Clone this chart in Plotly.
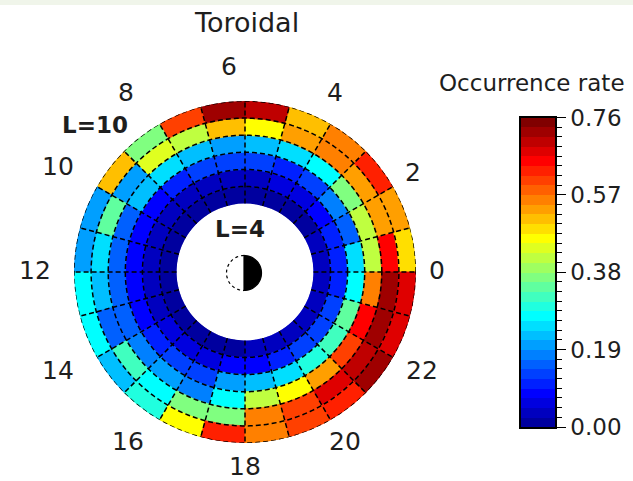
import math
import plotly.graph_objects as go

# Occurrence rate of toroidal-mode events per MLT hour (0..23) and L-shell ring
MLT_HOURS = list(range(24))
L_LOWER = [4, 5, 6, 7, 8, 9]

rate_L4 = [0.035, 0.03, 0.02, 0.02, 0.01, 0.01, 0.01, 0.01, 0.01, 0.01, 0.01, 0.01,
           0.01, 0.01, 0.01, 0.02, 0.02, 0.02, 0.03, 0.03, 0.03, 0.03, 0.035, 0.035]
rate_L5 = [0.11, 0.10, 0.09, 0.07, 0.05, 0.045, 0.045, 0.045, 0.045, 0.045, 0.045, 0.045,
           0.045, 0.045, 0.05, 0.06, 0.07, 0.09, 0.09, 0.10, 0.12, 0.14, 0.12, 0.11]
rate_L6 = [0.26, 0.16, 0.18, 0.13, 0.11, 0.12, 0.13, 0.12, 0.10, 0.09, 0.09, 0.09,
           0.08, 0.08, 0.11, 0.12, 0.14, 0.20, 0.22, 0.26, 0.30, 0.33, 0.35, 0.27]
rate_L7 = [0.42, 0.42, 0.37, 0.27, 0.26, 0.22, 0.21, 0.23, 0.25, 0.22, 0.16, 0.16,
           0.16, 0.16, 0.17, 0.21, 0.185, 0.27, 0.41, 0.47, 0.53, 0.60, 0.65, 0.55]
rate_L8 = [0.65, 0.53, 0.54, 0.55, 0.54, 0.47, 0.52, 0.41, 0.43, 0.21, 0.34, 0.26,
           0.22, 0.16, 0.32, 0.27, 0.37, 0.37, 0.56, 0.61, 0.68, 0.71, 0.72, 0.73]
rate_L9 = [0.48, 0.53, 0.62, 0.56, 0.52, 0.70, 0.72, 0.60, 0.37, 0.51, 0.20, 0.21,
           0.28, 0.27, 0.23, 0.30, 0.47, 0.62, 0.55, 0.60, 0.64, 0.73, 0.67, 0.68]
RATES = [rate_L4, rate_L5, rate_L6, rate_L7, rate_L8, rate_L9]

MLT_TICKS = [0, 2, 4, 6, 8, 10, 12, 14, 16, 18, 20, 22]
CBAR_TICKS = [0.00, 0.19, 0.38, 0.57, 0.76]
VMAX = 0.76
N_LEVELS = 32

FONT = "DejaVu Sans"
INK = "#1e1e1e"


def jet(m):
    """MATLAB-style jet(m) colour table."""
    n = (m + 3) // 4
    u = [(i + 1) / n for i in range(n)] + [1.0] * (n - 1) + [(n - i) / n for i in range(n)]
    off = (n + 1) // 2 - (1 if m % 4 == 1 else 0)
    R, G, B = [0.0] * m, [0.0] * m, [0.0] * m
    for k, uk in enumerate(u):
        g = off + k + 1
        for idx, ch in ((g, G), (g + n, R), (g - n, B)):
            if 1 <= idx <= m:
                ch[idx - 1] = uk
    return [f"rgb({round(255*r)},{round(255*g)},{round(255*b)})" for r, g, b in zip(R, G, B)]


levels = jet(N_LEVELS)
stepped = []
for i, c in enumerate(levels):
    stepped.append([i / N_LEVELS, c])
    stepped.append([(i + 1) / N_LEVELS, c])

fig = go.Figure()

# one ring of 24 hour-wide sectors per L bin
for L0, vals in zip(L_LOWER, RATES):
    fig.add_trace(go.Barpolar(
        r=[1] * len(MLT_HOURS),
        base=[L0] * len(MLT_HOURS),
        theta=[(h + 0.5) * 15 for h in MLT_HOURS],
        width=[15] * len(MLT_HOURS),
        marker=dict(color=vals, colorscale=stepped, cmin=0, cmax=VMAX,
                    line=dict(color=vals, colorscale=stepped, cmin=0, cmax=VMAX, width=0.8)),
        showlegend=False, hoverinfo="skip",
    ))

# dashed bin grid drawn over the cells
L_EDGES = L_LOWER[1:] + [L_LOWER[-1] + 1]
circ_r, circ_t = [], []
for L in L_EDGES:
    circ_r += [L] * 361 + [None]
    circ_t += [t for t in range(361)] + [None]
fig.add_trace(go.Scatterpolar(r=circ_r, theta=circ_t, mode="lines",
                              line=dict(color="black", width=1.5, dash="5px,3px"),
                              showlegend=False, hoverinfo="skip"))
rad_r, rad_t = [], []
for h in MLT_HOURS:
    rad_r += [L_LOWER[0], L_EDGES[-1], None]
    rad_t += [h * 15, h * 15, None]
fig.add_trace(go.Scatterpolar(r=rad_r, theta=rad_t, mode="lines",
                              line=dict(color="black", width=1.5, dash="5px,3px"),
                              showlegend=False, hoverinfo="skip"))

# colour bar built as a heatmap of the discrete levels
step = VMAX / N_LEVELS
centers = [(i + 0.5) * step for i in range(N_LEVELS)]
fig.add_trace(go.Heatmap(x=[0], y=centers, z=[[c] for c in centers],
                         colorscale=stepped, zmin=0, zmax=VMAX, showscale=False,
                         hoverinfo="skip", xaxis="x", yaxis="y"))

W, H = 633, 481
cx, cy, R = 245, 272, 171   # dial centre and outer radius, pixels

fig.update_layout(
    width=W, height=H, margin=dict(l=0, r=0, t=0, b=0, pad=0, autoexpand=False),
    paper_bgcolor="white", plot_bgcolor="white",
    font=dict(family=FONT, color=INK),
    polar=dict(
        domain=dict(x=[(cx - R) / W, (cx + R) / W],
                    y=[(H - cy - R) / H, (H - cy + R) / H]),
        hole=0.4, bgcolor="white",
        radialaxis=dict(range=[4, 10], visible=False),
        angularaxis=dict(rotation=0, direction="counterclockwise",
                         tickvals=[m * 15 for m in MLT_TICKS],
                         showgrid=False, showline=False, ticks="",
                         showticklabels=False),
    ),
    xaxis=dict(domain=[521 / W, 555 / W], range=[-0.5, 0.5], showticklabels=False,
               ticks="", showgrid=False, zeroline=False, automargin=False,
               showline=True, mirror=True, linecolor="black", linewidth=1.5, anchor="y"),
    yaxis=dict(domain=[(H - 427) / H, (H - 117.5) / H], range=[0, VMAX], side="right",
               tickvals=CBAR_TICKS, ticktext=[f"{v:.2f}" for v in CBAR_TICKS],
               ticks="outside", ticklen=9, tickwidth=1.3, tickcolor="black",
               minor=dict(dtick=step, tick0=0, ticks="outside", ticklen=5,
                          tickwidth=1.2, tickcolor="black", showgrid=False),
               showgrid=False, zeroline=False, automargin=False,
               showline=True, mirror=True, linecolor="black", linewidth=1.5,
               tickfont=dict(family=FONT, size=23, color=INK), anchor="x"),
)

# MLT hour labels around the dial (pixel centres)
MLT_LABEL_POS = {0: (437, 270), 2: (413, 172), 4: (335, 92), 6: (229, 66), 8: (126, 92),
                 10: (58, 166), 12: (35, 270), 14: (58, 370), 16: (128, 441),
                 18: (245, 466), 20: (345, 441), 22: (422, 370)}
for m in MLT_TICKS:
    px, py = MLT_LABEL_POS[m]
    fig.add_annotation(xref="paper", yref="paper", x=px / W, y=1 - py / H,
                       xanchor="center", yanchor="middle", showarrow=False, text=str(m),
                       font=dict(family=FONT, size=25, color=INK))

annotations = [
    dict(text="Toroidal", x=246, y=22, size=27, xanchor="center"),
    dict(text="Occurrence rate", x=437, y=83, size=23, xanchor="left"),
    dict(text="<b>L=10</b>", x=95, y=125, size=23, xanchor="center"),
    dict(text="<b>L=4</b>", x=240, y=229, size=23, xanchor="center"),
]
for a in annotations:
    fig.add_annotation(xref="paper", yref="paper", yanchor="middle", showarrow=False,
                       x=a["x"] / W, y=1 - a["y"] / H, xanchor=a["xanchor"], text=a["text"],
                       font=dict(family=FONT, size=a["size"], color=INK))

# pale band along the top edge of the page
fig.add_shape(type="rect", xref="paper", yref="paper", x0=0, x1=1, y0=1 - 5 / H, y1=1,
              fillcolor="#f0f5ea", line=dict(width=0), layer="below")

# day/night Earth symbol at the centre
er = 17.5
ex, ey = 244 / W, (H - 273) / H
night = "M 0,{:.2f} ".format(-er)
for k in range(1, 37):
    a = -math.pi / 2 + math.pi * k / 36
    night += "L {:.2f},{:.2f} ".format(er * math.cos(a), er * math.sin(a))
night += "Z"
day = "M 0,{:.2f} ".format(er)
for k in range(1, 37):
    a = math.pi / 2 + math.pi * k / 36
    day += "L {:.2f},{:.2f} ".format(er * math.cos(a), er * math.sin(a))
fig.add_shape(type="path", xref="paper", yref="paper", xsizemode="pixel", ysizemode="pixel",
              xanchor=ex, yanchor=ey, path=day, fillcolor="white",
              line=dict(color="black", width=1.2, dash="dot"))
fig.add_shape(type="path", xref="paper", yref="paper", xsizemode="pixel", ysizemode="pixel",
              xanchor=ex, yanchor=ey, path=night, fillcolor="black",
              line=dict(color="black", width=1.2))

fig.write_html("out.html")
